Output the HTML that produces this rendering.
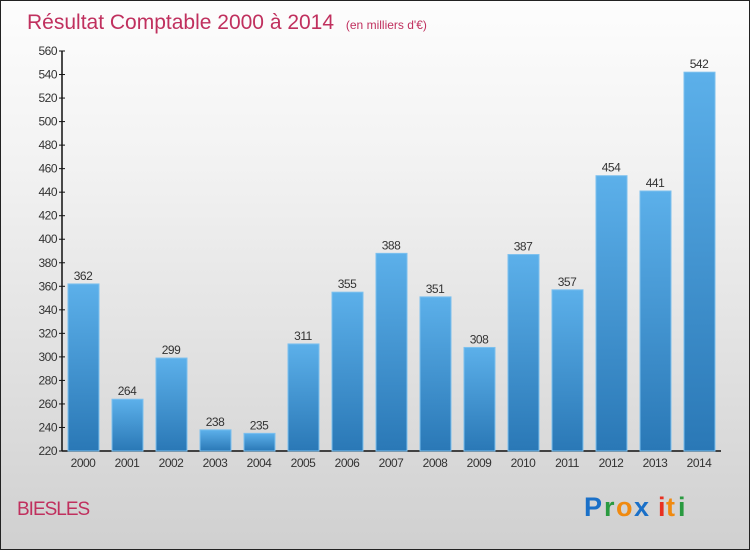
<!DOCTYPE html>
<html><head><meta charset="utf-8">
<style>
body{margin:0;width:750px;height:550px;overflow:hidden;font-family:"Liberation Sans",sans-serif;}
#frame{position:absolute;left:0;top:0;width:748px;height:548px;border:1px solid #222;background:linear-gradient(#fdfdfd,#f2f2f2 30%,#d0d0d0);}
</style></head>
<body>
<div id="frame">
<svg width="750" height="550">
<defs><linearGradient id="bg" x1="0" y1="0" x2="0" y2="1"><stop offset="0" stop-color="#5cb0ea"/><stop offset="1" stop-color="#2a78b6"/></linearGradient></defs>
<text x="26" y="28" font-size="21" fill="#c0305e">Résultat Comptable 2000 à 2014 <tspan font-size="12" dx="6">(en milliers d'€)</tspan></text>
<g id="yaxis"></g>
<g id="bars"></g>
<text x="16" y="514" font-size="19" fill="#c0305e" letter-spacing="-1">BIESLES</text>
<g font-size="27" font-weight="bold" font-family="'Liberation Sans',sans-serif">
<text x="583" y="515" fill="#1a70c8">P</text><text x="603" y="515" fill="#2a9a40">r</text><text x="615" y="515" fill="#f08a10">o</text><text x="633" y="515" fill="#1a70c8">x</text><text x="657" y="515" fill="#e83020">i</text><text x="665" y="515" fill="#f08a10">t</text><text x="677" y="515" fill="#2a9a40">i</text>
</g>
</svg>
</div>
<script>
const categories=["2000","2001","2002","2003","2004","2005","2006","2007","2008","2009","2010","2011","2012","2013","2014"];
const values=[362,264,299,238,235,311,355,388,351,308,387,357,454,441,542];
const yTicks=[220,240,260,280,300,320,340,360,380,400,420,440,460,480,500,520,540,560];
const NS="http://www.w3.org/2000/svg";
const y0=450,y1=50,vmin=220,vmax=560;
function yScale(v){return y0-(v-vmin)/(vmax-vmin)*(y0-y1);}
function xCenter(i){return 82+i*44;}
function mk(tag,attrs,parent){const e=document.createElementNS(NS,tag);for(const k in attrs)e.setAttribute(k,attrs[k]);parent.appendChild(e);return e;}
const ya=document.getElementById('yaxis'),bg=document.getElementById('bars');
const axl=mk('line',{x1:61,x2:61,y1:50,y2:450,stroke:'#111','stroke-width':1.5},ya);


const axx=mk('line',{x1:61,x2:720,y1:450,y2:450,stroke:'#111','stroke-width':1.5},ya);


yTicks.forEach(t=>{const y=yScale(t);
mk('line',{x1:58,x2:64,y1:y,y2:y,stroke:'#111'},ya);
const tx=mk('text',{x:56,y:y+4,'font-size':12,'text-anchor':'end',fill:'#333','letter-spacing':'-0.5'},ya);tx.textContent=t;

});
categories.forEach((c,i)=>{const cx=xCenter(i),y=yScale(values[i]);
const r=mk('rect',{x:cx-15,y:y,width:31,height:y0-y,fill:'url(#bg)',stroke:'#7cc0ee','stroke-width':1},bg);


const v=mk('text',{x:cx,y:y-4,'font-size':12,'text-anchor':'middle',fill:'#333','letter-spacing':'-0.5'},bg);v.textContent=values[i];


const l=mk('text',{x:cx,y:466,'font-size':12,'text-anchor':'middle',fill:'#333','letter-spacing':'-0.5'},bg);l.textContent=c;

});
</script>
</body></html>
